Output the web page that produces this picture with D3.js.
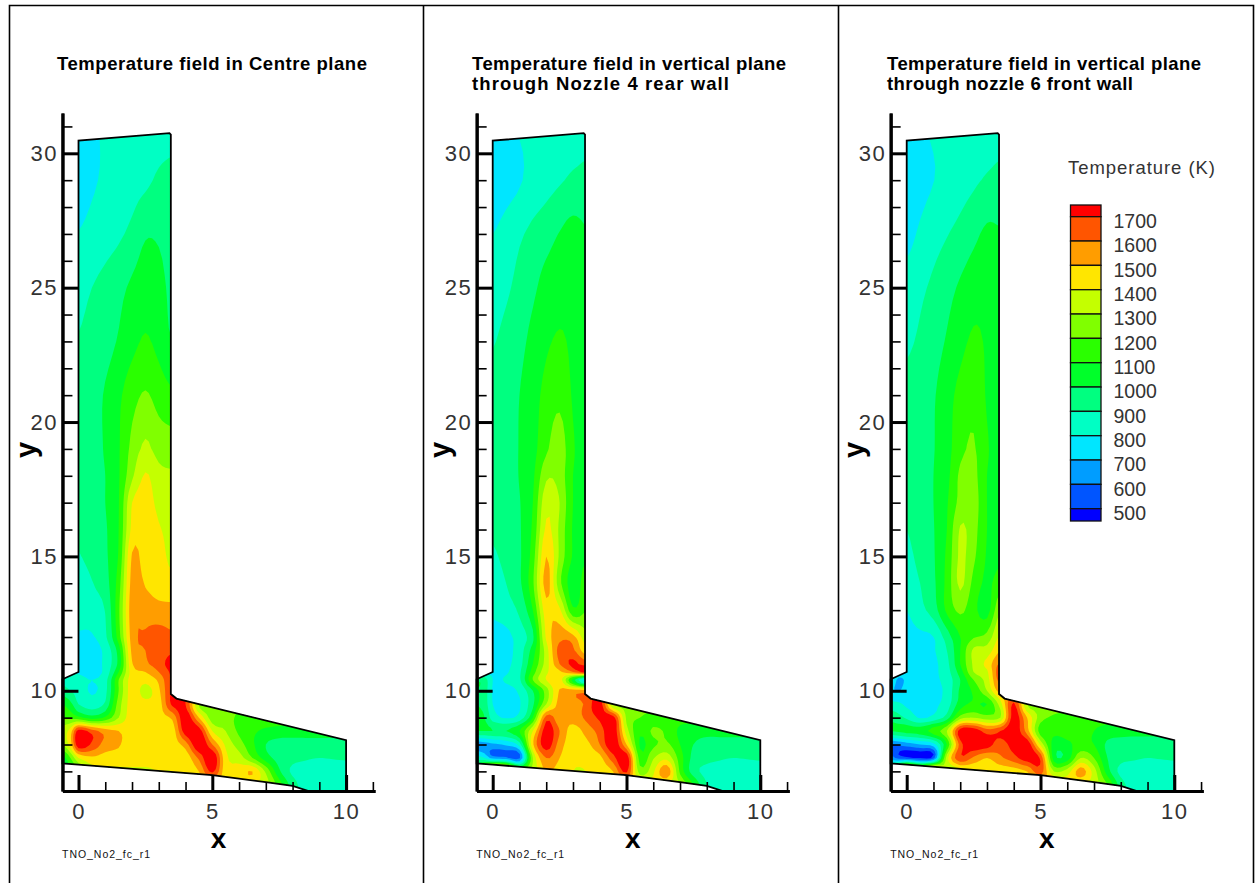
<!DOCTYPE html>
<html><head><meta charset="utf-8">
<script src="https://d3js.org/d3.v7.min.js"></script>
<style>
html,body{margin:0;padding:0;background:#fff}
svg{display:block}
text{font-family:"Liberation Sans",Arial,sans-serif}
</style></head><body><div id="chart"></div>
<script>
const levels=[500,600,700,800,900,1000,1100,1200,1300,1400,1500,1600,1700];
const bandColors=["#0000ff","#0055ff","#009dff","#00e6ff","#00ffc4","#00ff80","#00ff2a","#2aff00","#80ff00","#c4ff00","#ffe600","#ff9d00","#ff5500","#ff0000"];
const gridX=[-0.6,-0.3,0,0.5,1,1.5,2,2.5,3,3.5,4,4.5,5,5.5,6,6.5,7,7.5,8,8.5,9,9.5,10];
const gridY=[31,29,27,25,23,21,19,18,17,16,15,14,13,12,11.5,11,10.7,10.4,10,9.5,9,8.5,8,7.5,7,6.5,6.2];
const outlineX=[-0.6,-0.6,0,0,3.4,3.45,3.45,3.66,10,10,8.6,8,7,5,0,-0.6];
const outlineY=[7.3,10.43,10.7,30.47,30.75,30.7,9.88,9.71,8.16,6.27,6.27,6.46,6.6,6.86,7.25,7.3];
const yMajor=[10,15,20,25,30];
const yMinor=[7,8,9,11,12,13,14,16,17,18,19,21,22,23,24,26,27,28,29,31];
const xMajor=[0,5,10];
const xMinor=[1,2,3,4,6,7,8,9,11];

// temperature (K), columns x=0..3.5 for the shaft rows, then full-width rows (short rows continue with last value)
const centrePlane=[
[750,785,810,830,840,850,860,870],
[740,785,815,840,860,880,915,925],
[805,835,860,885,925,990,985,945],
[870,900,930,970,1020,1060,1040,970],
[905,930,960,1010,1070,1110,1070,1000],
[930,960,1010,1080,1160,1210,1160,1120],
[930,960,1010,1090,1230,1320,1260,1250],
[930,955,1000,1090,1280,1410,1330,1310],
[925,950,1000,1095,1400,1450,1370,1330],
[910,945,990,1100,1430,1470,1410,1370],
[895,930,985,1110,1510,1450,1430,1380],
[860,895,960,1150,1540,1490,1440,1430],
[840,860,905,1180,1560,1560,1540,1530],
[790,790,880,1150,1550,1610,1640,1620],
[770,760,830,1050,1530,1600,1650,1680],
[775,750,830,1030,1490,1580,1650,1750],
[790,770,830,1100,1450,1500,1600,1720],
[860,850,830,800,860,1200,1450,1430,1520,1720],
[950,900,860,790,870,1200,1450,1360,1480,1720],
[1100,1030,900,850,920,1250,1450,1430,1450,1720,1700,1300],
[1200,1180,1130,1050,1120,1300,1460,1460,1470,1520,1780,1500,1250,1260,1170],
[1350,1450,1750,1650,1550,1500,1450,1450,1450,1440,1760,1760,1400,1300,1180,1120,1080,1060,1050],
[1300,1450,1780,1680,1560,1510,1450,1450,1450,1450,1550,1800,1600,1380,1250,1120,1000,960,960,960,960,960,960],
[1050,1200,1400,1480,1450,1450,1450,1450,1450,1430,1440,1620,1800,1430,1350,1200,1050,960,930,910,900,905,910],
[1000,1100,1200,1350,1380,1380,1380,1380,1400,1400,1440,1500,1720,1440,1450,1500,1280,1020,880,860,860,860,860],
[1300,1300,1350,1380,1380,1380,1380,1380,1400,1400,1420,1450,1450,1440,1420,1400,1350,1150,950,850,840,840,840],
[1300,1300,1350,1380,1380,1380,1380,1380,1400,1400,1420,1450,1450,1440,1420,1400,1350,1150,950,850,840,840,840]
];
const nozzle4Plane=[
[760,790,805,825,840,850,860,870],
[730,760,790,835,865,890,915,925],
[800,840,885,925,960,1005,1040,1010],
[860,885,930,980,1040,1070,1080,1050],
[895,925,970,1030,1085,1110,1085,1060],
[925,950,1000,1060,1130,1170,1090,1060],
[925,950,1005,1065,1180,1260,1110,1070],
[925,950,1005,1080,1280,1260,1100,1080],
[925,950,995,1100,1370,1300,1100,1080],
[915,945,990,1120,1420,1280,1090,1080],
[885,930,985,1150,1500,1280,1090,1090],
[850,900,980,1180,1540,1230,1050,1150],
[820,860,920,1100,1460,1420,1120,1200],
[760,770,850,980,1420,1560,1530,1330],
[760,770,850,1050,1350,1640,1620,1430],
[760,780,860,1100,1350,1600,1720,1650],
[780,790,880,1150,1380,1480,1600,1750],
[1000,950,800,810,880,1200,1400,1450,1050,720],
[1000,950,790,770,820,1000,1250,1510,1550,1560],
[1000,950,800,750,790,980,1300,1540,1560,1620,1760,1300],
[1050,1000,850,790,840,1100,1650,1520,1550,1620,1720,1750,1280,1200,1150],
[1000,1000,1000,1000,1100,1400,1760,1600,1450,1540,1640,1780,1350,1120,1220,1180,1080,1050,1040],
[650,660,680,720,850,1480,1760,1550,1440,1470,1600,1780,1500,1090,1180,1220,1100,1000,960,960,960,960,940],
[850,800,650,620,580,1300,1600,1500,1420,1430,1470,1660,1780,1150,1290,1370,1150,970,930,910,900,905,910],
[1200,1500,1900,1800,1300,1350,1500,1450,1400,1400,1440,1500,1720,1250,1380,1580,1180,950,870,860,860,860,860],
[1400,1400,1400,1400,1400,1400,1400,1400,1400,1400,1420,1450,1450,1450,1430,1400,1300,1100,900,850,840,840,840],
[1400,1400,1400,1400,1400,1400,1400,1400,1400,1400,1420,1450,1450,1450,1430,1400,1300,1100,900,850,840,840,840]
];
const nozzle6Plane=[
[770,790,810,830,840,850,860,870],
[740,770,798,830,860,885,910,925],
[770,815,860,895,930,975,1020,1010],
[840,880,920,965,1015,1060,1070,1040],
[885,915,955,1010,1070,1115,1090,1060],
[925,950,990,1060,1130,1170,1090,1060],
[925,950,995,1060,1170,1210,1110,1060],
[925,950,1000,1070,1220,1230,1100,1060],
[920,945,1000,1090,1230,1250,1100,1060],
[900,940,995,1100,1310,1240,1100,1070],
[880,925,990,1120,1320,1220,1090,1080],
[860,900,980,1130,1320,1170,1080,1150],
[800,870,950,1120,1220,1130,1060,1300],
[770,780,800,950,1100,1190,1230,1420],
[765,770,790,900,1100,1320,1340,1500],
[760,770,780,870,1100,1320,1430,1620],
[760,775,780,860,1050,1300,1380,1680],
[780,680,720,770,780,840,1000,1200,1350,1650],
[720,690,760,770,770,830,1020,1120,1300,1550],
[830,820,780,770,780,850,1050,1120,1100,1350,1720,1300],
[970,930,880,790,830,950,1250,1300,1250,1300,1760,1500,1250,1180,1150],
[1000,1020,1040,1050,1150,1300,1760,1780,1650,1700,1780,1550,1150,1130,1140,1140,1100,1060,1050,1040],
[600,620,650,700,760,1100,1650,1780,1750,1650,1750,1780,1380,1060,1080,1130,1100,980,950,950,950,950,950],
[650,560,520,490,550,1350,1680,1580,1500,1580,1660,1760,1680,1050,1050,1300,1200,1000,930,910,900,905,910],
[1100,1500,1900,1600,1800,1300,1350,1400,1440,1430,1450,1500,1650,1300,1350,1550,1350,1050,870,860,860,860,860],
[1400,1400,1400,1400,1400,1400,1400,1400,1400,1400,1420,1450,1450,1550,1450,1400,1350,1200,950,850,840,840,840],
[1400,1400,1400,1400,1400,1400,1400,1400,1400,1400,1420,1450,1450,1550,1450,1400,1350,1200,950,850,840,840,840]
];
const panelFields=[centrePlane,nozzle4Plane,nozzle6Plane];
const panelOffsets=[0,414.2,828.2];
const panelTitles=[["Temperature field in Centre plane"],
 ["Temperature field in vertical plane","through Nozzle 4 rear wall"],
 ["Temperature field in vertical plane","through nozzle 6 front wall"]];
const titleWidths=[[310],[314,257],[314,246]];
const titleLeft=[57,472,887];
const footerLabel="TNO_No2_fc_r1";
const legendTitle="Temperature (K)";

const W=1255,H=883;
const svg=d3.select("#chart").append("svg").attr("width",W).attr("height",H).attr("viewBox",[0,0,W,H]);

// page frame
const frame=svg.append("g").attr("fill","none").attr("stroke","#000").attr("stroke-width",1.6);
frame.append("path").attr("d",d3.line()([[9.5,H],[9.5,5.5],[1253.5,5.5],[1253.5,H]]));
[423.5,838.5].forEach(x=>frame.append("line").attr("x1",x).attr("x2",x).attr("y1",5.5).attr("y2",H));

// shared scales
const x=d3.scaleLinear().domain([-0.6,11.08]).range([62.45,375]);
const y=d3.scaleLinear().domain([6.27,31.5]).range([791,113]);
const colIndex=d3.scaleLinear().domain(d3.range(gridX.length)).range(gridX);
const rowIndex=d3.scaleLinear().domain(d3.range(gridY.length)).range(gridY);
const K=4;

function fullRows(rows){
  return rows.map(r=>{
    if(r.length===8) r=[r[0],r[0],...r];
    const o=r.slice(); while(o.length<gridX.length)o.push(o[o.length-1]); return o;
  });
}
function cr(a,i,f){
  const g=j=>a[Math.max(0,Math.min(a.length-1,j))];
  const p0=g(i-1),p1=g(i),p2=g(i+1),p3=g(i+2);
  return 0.5*((2*p1)+(-p0+p2)*f+(2*p0-5*p1+4*p2-p3)*f*f+(-p0+3*p1-3*p2+p3)*f*f*f);
}
function refine(line){
  const out=[];
  for(let i=0;i<line.length-1;i++)for(let s=0;s<K;s++)out.push(cr(line,i,s/K));
  out.push(line[line.length-1]);return out;
}
function refineGrid(rows){
  const h=rows.map(refine),nx=h[0].length,ny=(rows.length-1)*K+1;
  const v=new Float64Array(nx*ny);
  for(let c=0;c<nx;c++){
    const col=refine(h.map(r=>r[c]));
    for(let r=0;r<ny;r++)v[r*nx+c]=col[r];
  }
  return {v,nx,ny};
}

panelFields.forEach((field,p)=>{
  const g=svg.append("g").attr("transform",`translate(${panelOffsets[p]},0)`);
  const outline=d3.line().x((d,i)=>x(outlineX[i])).y((d,i)=>y(outlineY[i]));
  const clipId="clip"+p;
  g.append("clipPath").attr("id",clipId).append("path").attr("d",outline(outlineX)+"Z");
  const {v,nx,ny}=refineGrid(fullRows(field));
  const cs=d3.contours().size([nx,ny]).smooth(true).thresholds(levels)(v);
  const tr=d3.geoTransform({point(u,w){
    this.stream.point(x(colIndex((u-0.5)/K)),y(rowIndex((w-0.5)/K)));
  }});
  const path=d3.geoPath(tr);
  const cg=g.append("g").attr("clip-path",`url(#${clipId})`);
  cg.append("path").attr("d",outline(outlineX)+"Z").attr("fill",bandColors[0]);
  cs.forEach((c,i)=>{
    cg.append("path").attr("d",path(c)).attr("fill",bandColors[i+1]).attr("fill-rule","evenodd");
  });
  g.append("path").attr("d",outline(outlineX)+"Z").attr("fill","none").attr("stroke","#000").attr("stroke-width",1.8);

  // axes
  const yMinorAxis=d3.axisLeft(y).tickValues(yMinor).tickSizeInner(-10).tickSizeOuter(0).tickFormat("");
  const yMajorAxis=d3.axisLeft(y).tickValues(yMajor).tickSizeInner(-16).tickSizeOuter(0).tickPadding(4.5).tickFormat(d3.format("d"));
  const xMinorAxis=d3.axisBottom(x).tickValues(xMinor).tickSizeInner(-9).tickSizeOuter(0).tickFormat("");
  const xMajorAxis=d3.axisBottom(x).tickValues(xMajor).tickSizeInner(-16).tickSizeOuter(0).tickPadding(12).tickFormat(d3.format("d"));
  const styleAxis=(sel,w)=>{
    sel.select(".domain").attr("stroke","#000").attr("stroke-width",3);
    sel.selectAll(".tick line").attr("stroke","#000").attr("stroke-width",w);
    sel.selectAll("text").attr("font-family",'"Liberation Sans",Arial,sans-serif').attr("font-size",22).attr("letter-spacing",1.5).attr("fill","#333");
  };
  g.append("g").attr("transform",`translate(${x(-0.6)},0)`).call(yMinorAxis).call(styleAxis,1.6);
  g.append("g").attr("transform",`translate(${x(-0.6)},0)`).call(yMajorAxis).call(styleAxis,3);
  g.append("g").attr("transform",`translate(0,${y(6.27)})`).call(xMinorAxis).call(styleAxis,1.6);
  g.append("g").attr("transform",`translate(0,${y(6.27)})`).call(xMajorAxis).call(styleAxis,3);

  g.append("text").attr("x",x(5)+6.3).attr("y",848).attr("text-anchor","middle").attr("font-size",28).attr("font-weight","bold").text("x");
  g.append("text").attr("transform",`translate(36,450) rotate(-90)`).attr("text-anchor","middle").attr("font-size",29).attr("font-weight","bold").text("y");
  g.append("text").attr("x",62).attr("y",857.5).attr("font-size",10.5).attr("textLength",88).attr("lengthAdjust","spacing").attr("fill","#111").text(footerLabel);

  panelTitles[p].forEach((t,i)=>{
    svg.append("text").attr("x",titleLeft[p]).attr("y",70+i*20.3).attr("font-size",18.5).attr("font-weight","bold")
      .attr("textLength",titleWidths[p][i]).attr("lengthAdjust","spacing").attr("fill","#000").text(t);
  });
});

// legend
const legendY=d3.scaleLinear().domain([1700,500]).range([216.7,508.7]);
const lg=svg.append("g");
const bandEdges=[205,...levels.slice().reverse().map(l=>legendY(l)),521];
bandColors.slice().reverse().forEach((c,i)=>{
  lg.append("rect").attr("x",1070.5).attr("width",30.5).attr("y",bandEdges[i]).attr("height",bandEdges[i+1]-bandEdges[i])
    .attr("fill",c).attr("stroke","#111").attr("stroke-width",1.3);
});
levels.forEach(l=>{
  lg.append("text").attr("x",1113.5).attr("y",legendY(l)+4.4).attr("dy","0.35em").attr("font-size",19.5).attr("fill","#333").text(l);
});
lg.append("text").attr("x",1068).attr("y",174).attr("font-size",18.5).attr("textLength",147).attr("lengthAdjust","spacing").attr("fill","#333").text(legendTitle);
</script></body></html>
